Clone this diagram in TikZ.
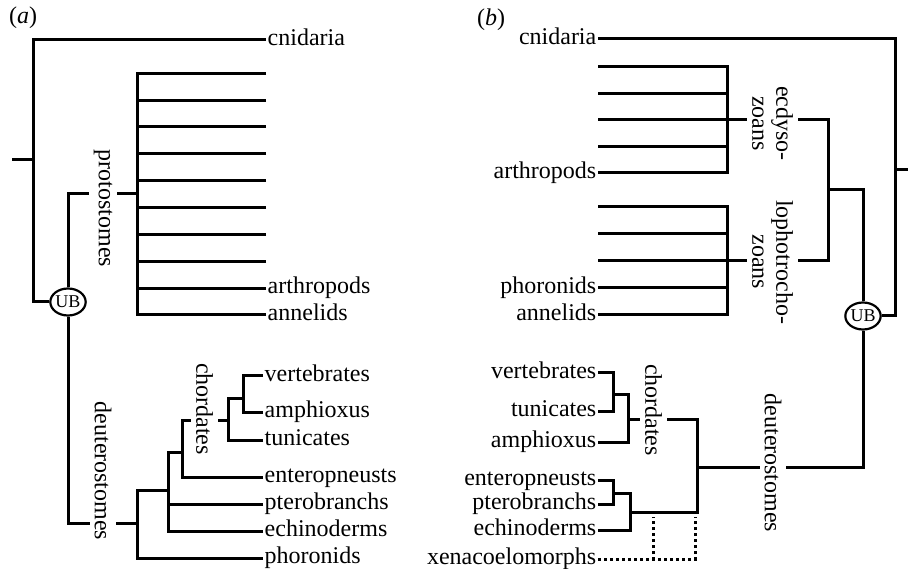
\documentclass[tikz,border=0pt]{standalone}
\usepackage{fontspec}
\setmainfont{Liberation Serif}
\usetikzlibrary{shapes.geometric}
\newcommand\taxonfont{\fontsize{24}{24}\selectfont}
\newcommand\ubfont{\fontsize{18}{18}\selectfont}
\begin{document}
\begin{tikzpicture}[x=1pt,y=-1pt,
  branch/.style={line width=3pt, line join=miter, line cap=butt},
  hypo/.style={line width=3pt, dash pattern=on 3pt off 3pt},
  leafR/.style={anchor=west, font=\taxonfont, text height=11pt, text depth=0pt, inner sep=1.5pt},
  leafL/.style={anchor=east, font=\taxonfont, text height=11pt, text depth=0pt, inner sep=1.5pt},
  clade/.style={rotate=-90, fill=white, font=\taxonfont, inner xsep=0pt, inner ysep=5pt, align=center},
  ub/.style={draw, ellipse, line width=2.2pt, minimum width=35pt, minimum height=27pt, inner sep=0pt, font=\ubfont},
  panel/.style={anchor=west, font=\taxonfont, inner sep=0pt}]
\useasboundingbox (0,0) rectangle (908,569);

% ---------------- panel (a) ----------------
\node[panel] (labA) at (9,18) {(\textit{a})};
\coordinate (RA) at (33,160);
\coordinate (stemA) at (12,160);
\coordinate (cnA) at (266,40);
\node[ub] (ubA) at (68,302) {UB};
\coordinate (PA) at (137,194);
\foreach \i in {0,...,9} \coordinate (pa\i) at (266,73.3+26.85*\i);
\coordinate (DA) at (137,523);
\coordinate (DA1) at (168,490);
\coordinate (DA2) at (182,452);
\coordinate (CA) at (228,420);
\coordinate (CA1) at (243,398);
\coordinate (verA) at (263,376);
\coordinate (ampA) at (263,412);
\coordinate (tunA) at (263,440);
\coordinate (entA) at (263,477);
\coordinate (pteA) at (263,504);
\coordinate (echA) at (263,531);
\coordinate (phoA) at (263,558);

\draw[branch] (RA) -- (stemA);
\draw[branch] (cnA) -| (RA);
\draw[branch] (ubA) -| (RA);
\draw[branch] (ubA) |- (PA);
\draw[branch] (ubA) |- (DA);
\foreach \i in {0,...,9} \draw[branch] (pa\i) -| (PA);
\draw[branch] (DA1) -| (DA);
\draw[branch] (phoA) -| (DA);
\draw[branch] (DA2) -| (DA1);
\draw[branch] (pteA) -| (DA1);
\draw[branch] (echA) -| (DA1);
\draw[branch] (CA) -| (DA2);
\draw[branch] (entA) -| (DA2);
\draw[branch] (CA1) -| (CA);
\draw[branch] (tunA) -| (CA);
\draw[branch] (verA) -| (CA1);
\draw[branch] (ampA) -| (CA1);

\node[leafR] (tcnA) at (cnA) {cnidaria};
\node[leafR] (tarA) at (pa8) {arthropods};
\node[leafR] (tanA) at (pa9) {annelids};
\node[leafR] (tverA) at (verA) {vertebrates};
\node[leafR] (tampA) at (ampA) {amphioxus};
\node[leafR] (ttunA) at (tunA) {tunicates};
\node[leafR] (tentA) at (entA) {enteropneusts};
\node[leafR] (tpteA) at (pteA) {pterobranchs};
\node[leafR] (techA) at (echA) {echinoderms};
\node[leafR] (tphoA) at (phoA) {phoronids};

\node[clade] (protoA) at (103,208.5) {protostomes};
\node[clade] (deutA) at (103,471) {deuterostomes};
\node[clade] (chordA) at (204.5,409) {chordates};

% ---------------- panel (b) ----------------
\node[panel] (labB) at (477,20) {(\textit{b})};
\coordinate (RB) at (895,170);
\coordinate (stemB) at (908,170);
\coordinate (cnB) at (598,39);
\node[ub] (ubB) at (863,316) {UB};
\coordinate (PB) at (828,190);
\coordinate (EB) at (727,120);
\coordinate (LB) at (727,261);
\foreach \i in {0,...,4} \coordinate (eb\i) at (598,67+26.5*\i);
\foreach \i in {0,...,4} \coordinate (lb\i) at (598,207+27*\i);
\coordinate (DB) at (697,467);
\coordinate (CB) at (628,419);
\coordinate (CB1) at (613,394);
\coordinate (AB) at (630,512);
\coordinate (AB1) at (613,493);
\coordinate (verB) at (598,373);
\coordinate (tunB) at (598,411);
\coordinate (ampB) at (598,442);
\coordinate (entB) at (598,480);
\coordinate (pteB) at (598,504);
\coordinate (echB) at (598,530);
\coordinate (xenB) at (598,559);
\coordinate (xk1) at (653,517);
\coordinate (xk2) at (695,517);

\draw[branch] (RB) -- (stemB);
\draw[branch] (cnB) -| (RB);
\draw[branch] (ubB) -| (RB);
\draw[branch] (ubB) |- (PB);
\draw[branch] (ubB) |- (DB);
\draw[branch] (EB) -| (PB);
\draw[branch] (LB) -| (PB);
\foreach \i in {0,...,4} \draw[branch] (eb\i) -| (EB);
\foreach \i in {0,...,4} \draw[branch] (lb\i) -| (LB);
\draw[branch] (CB) -| (DB);
\draw[branch] (AB) -| (DB);
\draw[branch] (CB1) -| (CB);
\draw[branch] (ampB) -| (CB);
\draw[branch] (verB) -| (CB1);
\draw[branch] (tunB) -| (CB1);
\draw[branch] (AB1) -| (AB);
\draw[branch] (echB) -| (AB);
\draw[branch] (entB) -| (AB1);
\draw[branch] (pteB) -| (AB1);
\draw[hypo] (xenB) -| (xk1);
\draw[hypo] (xenB) -| (xk2);

\node[leafL] (tcnB) at (cnB) {cnidaria};
\node[leafL] (tarB) at (eb4) {arthropods};
\node[leafL] (tphB) at (lb3) {phoronids};
\node[leafL] (tanB) at (lb4) {annelids};
\node[leafL] (tverB) at (verB) {vertebrates};
\node[leafL] (ttunB) at (tunB) {tunicates};
\node[leafL] (tampB) at (ampB) {amphioxus};
\node[leafL] (tentB) at (entB) {enteropneusts};
\node[leafL] (tpteB) at (pteB) {pterobranchs};
\node[leafL] (techB) at (echB) {echinoderms};
\node[leafL] (txenB) at (xenB) {xenacoelomorphs};

\node[clade] (ecdB) at (772.5,123.5) {ecdyso-\\zoans};
\node[clade] (lophB) at (772.5,262) {lophotrocho-\\zoans};
\node[clade] (chordB) at (653.5,410) {chordates};
\node[clade] (deutB) at (773,463) {deuterostomes};
\end{tikzpicture}
\end{document}
